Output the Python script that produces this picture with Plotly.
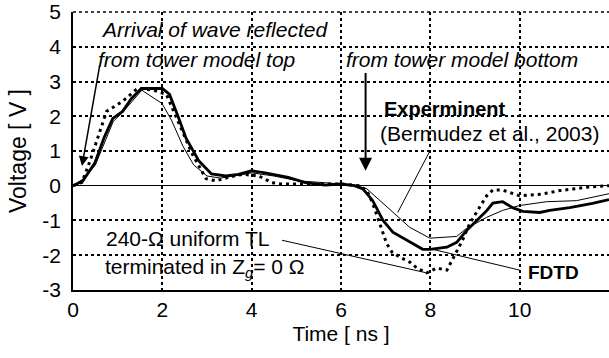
import plotly.graph_objects as go

# FDTD (thick solid)
t_fdtd = [0, 0.22, 0.49, 0.7, 0.89, 1.11, 1.3, 1.53, 2.0, 2.16, 2.35, 2.53, 2.82, 3.1, 3.42, 3.7, 4.0, 4.3,
          4.82, 5.2, 5.64, 6.0, 6.3, 6.49, 6.71, 6.94, 7.16, 7.54, 7.83, 7.99, 8.37, 8.59, 8.81, 9.04, 9.26,
          9.4, 9.62, 9.84, 10.07, 10.45, 10.67, 11.12, 11.63, 12]
v_fdtd = [0, 0.14, 0.66, 1.4, 1.94, 2.14, 2.5, 2.8, 2.8, 2.63, 2.0, 1.37, 0.71, 0.34, 0.28, 0.33, 0.43, 0.37,
          0.24, 0.09, 0.02, 0.05, 0.0, -0.09, -0.43, -1.0, -1.34, -1.63, -1.83, -1.83, -1.77, -1.63, -1.29, -1.0, -0.72,
          -0.5, -0.46, -0.63, -0.74, -0.77, -0.71, -0.63, -0.51, -0.4]

# Experiment (thin solid)
t_exp = [0, 0.27, 0.5, 0.9, 1.1, 1.3, 1.54, 1.99, 2.2, 2.46, 2.7, 3.0, 3.3, 3.7, 4.0, 4.5, 5.04, 5.6, 6.3,
         6.58, 6.94, 7.25, 7.54, 7.99, 8.59, 8.81, 9.26, 9.62, 10.0, 10.6, 11.27, 12]
v_exp = [0, 0.23, 0.6, 1.85, 2.1, 2.4, 2.75, 2.37, 1.9, 1.14, 0.6, 0.28, 0.22, 0.3, 0.37, 0.28, 0.14, 0.09, 0.02,
         -0.09, -0.51, -0.86, -1.2, -1.51, -1.46, -1.23, -0.91, -0.71, -0.57, -0.46, -0.43, -0.23]

# 240-ohm uniform TL (dotted)
t_tl = [0, 0.2, 0.38, 0.6, 0.75, 1.11, 1.44, 1.8, 2.09, 2.38, 2.67, 2.98, 3.2, 3.5, 3.8, 4.16, 4.45, 4.67, 5.0,
        5.5, 6.0, 6.4, 6.58, 6.71, 6.87, 7.02, 7.14, 7.32, 7.54, 7.7, 7.92, 8.14, 8.37, 8.59, 8.72, 8.88, 9.1,
        9.26, 9.4, 9.6, 10.0, 10.5, 10.9, 11.6, 12]
v_tl = [0, 0.1, 0.71, 1.57, 2.14, 2.43, 2.8, 2.75, 2.63, 1.77, 0.91, 0.2, 0.14, 0.25, 0.33, 0.28, 0.09, 0.05, 0.05,
        0.05, 0.05, 0.0, -0.14, -0.51, -1.09, -1.66, -1.91, -2.06, -2.2, -2.37, -2.51, -2.37, -2.43, -1.86, -1.57,
        -1.09, -0.63, -0.29, -0.12, -0.12, -0.29, -0.24, -0.14, -0.03, 0]

x_ticks = [0, 2, 4, 6, 8, 10]
x_labels = ["0", "2", "4", "6", "8", "10"]
y_ticks = [-3, -2, -1, 0, 1, 2, 3, 4, 5]
y_labels = ["-3", "-2", "-1", "0", "1", "2", "3", "4", "5"]

FONT = "Arial, Liberation Sans, sans-serif"

fig = go.Figure()
fig.add_trace(go.Scatter(x=t_tl, y=v_tl, mode="lines",
                         line=dict(color="black", width=3, dash="3px,4px"), name="TL"))
fig.add_trace(go.Scatter(x=t_exp, y=v_exp, mode="lines",
                         line=dict(color="black", width=1), name="Experiment"))
fig.add_trace(go.Scatter(x=t_fdtd, y=v_fdtd, mode="lines",
                         line=dict(color="black", width=2.8), name="FDTD"))

grid = dict(showgrid=True, gridcolor="black", gridwidth=1.5, griddash="dot")

fig.update_layout(
    width=609, height=358,
    margin=dict(l=73, r=0, t=10, b=68),
    paper_bgcolor="white", plot_bgcolor="white",
    showlegend=False,
    font=dict(family=FONT, size=21, color="black"),
    xaxis=dict(range=[-0.001, 12], tickvals=x_ticks, ticktext=x_labels, ticks="", showline=True,
               linecolor="black", linewidth=1.5, zeroline=False,
               title=dict(text="Time [ ns ]", standoff=6, font=dict(size=21)),
               tickfont=dict(size=21), ticklabeloverflow="allow", **grid),
    yaxis=dict(range=[-3.002, 5.002], tickvals=y_ticks, ticktext=y_labels, ticks="", showline=True,
               linecolor="black", linewidth=1.5,
               zeroline=True, zerolinecolor="black", zerolinewidth=1,
               title=dict(text="Voltage [ V ]", standoff=9, font=dict(size=23)),
               tickfont=dict(size=21), ticklabelstandoff=6, ticklabeloverflow="allow", **grid),
)

# top border dotted
fig.add_shape(type="line", xref="paper", yref="paper", x0=0, x1=1, y0=1, y1=1,
              line=dict(color="black", width=1.5, dash="dot"))

def txt(x, y, s, size=21, **kw):
    fig.add_annotation(x=x, y=y, text=s, showarrow=False, xanchor="left", yanchor="middle",
                       font=dict(size=size, family=FONT, color="black"), **kw)

txt(0.58, 4.51, "<i>Arrival of wave reflected</i>")
txt(0.52, 3.63, "<i>from tower model top</i>")
txt(6.06, 3.63, "<i>from tower model bottom</i>")
txt(6.92, 2.2, "<b>Experminent</b>", size=20)
txt(6.83, 1.49, "(Bermudez et al., 2003)")
txt(0.70, -1.51, "240-Ω uniform TL")
txt(0.67, -2.37, "terminated in Z<sub><i>g</i></sub>= 0 Ω")
txt(10.15, -2.49, "<b>FDTD</b>", size=19)

# arrows
fig.add_annotation(x=0.2, y=0.57, ax=0.6, ay=3.49, xref="x", yref="y", axref="x", ayref="y",
                   showarrow=True, arrowhead=2, arrowsize=1.3, arrowwidth=1.5, arrowcolor="black", text="")
fig.add_annotation(x=6.55, y=0.43, ax=6.55, ay=3.29, xref="x", yref="y", axref="x", ayref="y",
                   showarrow=True, arrowhead=2, arrowsize=1.3, arrowwidth=2, arrowcolor="black", text="")

# leader lines
for x0, y0, x1, y1 in [(7.99, 1.0, 7.27, -0.77), (4.68, -1.57, 7.92, -2.51), (10.0, -2.43, 8.05, -1.83)]:
    fig.add_shape(type="line", x0=x0, y0=y0, x1=x1, y1=y1, line=dict(color="black", width=1))

fig.write_html("out.html")
